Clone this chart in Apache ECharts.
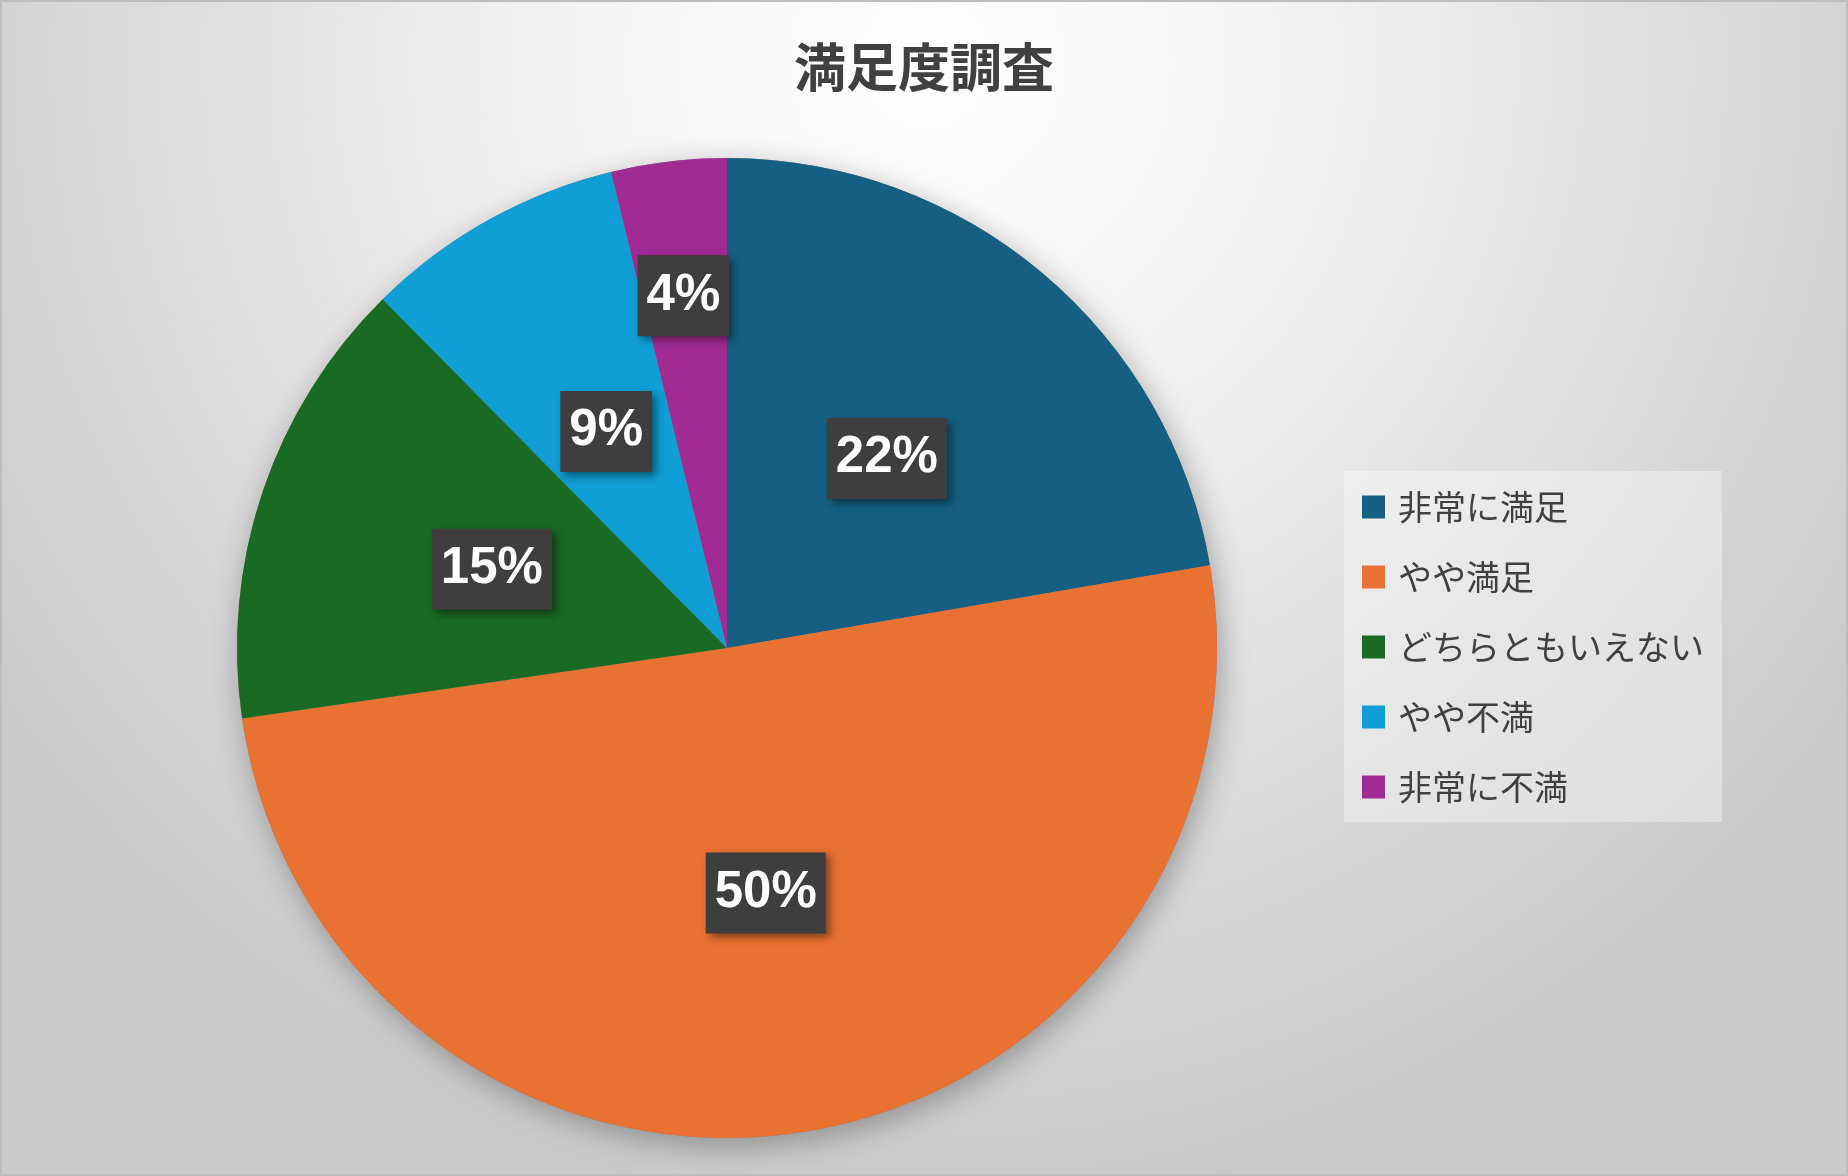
<!DOCTYPE html>
<html>
<head>
<meta charset="utf-8">
<script src="https://cdn.jsdelivr.net/npm/echarts@6/dist/echarts.min.js"></script>
<style>
  html, body { margin: 0; padding: 0; background: #fff; }
  #main { width: 1848px; height: 1176px; box-sizing: border-box; border: 2px solid #bdbdbd; }
</style>
</head>
<body>
<div id="main"></div>
<script>
// データ (割合 %)
var titleText = '満足度調査';
var categories = ['非常に満足', 'やや満足', 'どちらともいえない', 'やや不満', '非常に不満'];
var values = [22.3, 50.4, 14.9, 8.6, 3.8];
var colors = ['#156082', '#E97132', '#196B24', '#0F9ED5', '#A02B93'];

var chart = echarts.init(document.getElementById('main'));

var pieData = categories.map(function (name, i) {
    return { name: name, value: values[i], itemStyle: { color: colors[i] } };
});
var total = values.reduce(function (a, b) { return a + b; }, 0);

var option = {
    backgroundColor: {
        type: 'radial', x: 924, y: 60, r: 1150, global: true,
        colorStops: [
            { offset: 0, color: '#ffffff' },
            { offset: 0.35, color: '#f1f1f1' },
            { offset: 0.7, color: '#dadada' },
            { offset: 1, color: '#c9c9c9' }
        ]
    },
    title: {
        text: titleText,
        left: 'center',
        top: 34,
        textStyle: {
            fontFamily: 'Noto Sans CJK JP',
            fontSize: 52,
            fontWeight: 'bold',
            color: '#404040'
        }
    },
    legend: {
        orient: 'vertical',
        left: 1342,
        top: 469,
        padding: [19, 18, 18, 18],
        backgroundColor: 'rgba(255,255,255,0.35)',
        data: categories,
        icon: 'rect',
        itemWidth: 23,
        itemHeight: 23,
        itemGap: 36,
        textStyle: {
            fontFamily: 'Noto Sans CJK JP',
            fontSize: 34,
            lineHeight: 34,
            color: '#404040',
            padding: [0, 0, 0, 8]
        }
    },
    series: [
        {
            // 影だけの円
            type: 'pie',
            silent: true,
            center: [725, 646],
            radius: 490,
            z: 1,
            label: { show: false },
            labelLine: { show: false },
            data: [{ value: total, name: '', itemStyle: { color: '#888',
                shadowBlur: 30, shadowColor: 'rgba(0,0,0,0.3)', shadowOffsetX: 4, shadowOffsetY: 8 } }]
        },
        {
            name: titleText,
            type: 'pie',
            center: [725, 646],
            radius: 490,
            startAngle: 90,
            clockwise: true,
            percentPrecision: 0,
            z: 2,
            animation: false,
            data: pieData,
            label: {
                show: true,
                position: 'inside',
                formatter: '{d}%',
                fontFamily: 'Liberation Sans',
                fontSize: 51,
                fontWeight: 'bold',
                color: '#ffffff',
                lineHeight: 54,
                backgroundColor: '#3e3e3e',
                padding: [14, 9, 13, 9],
                shadowBlur: 8,
                shadowColor: 'rgba(0,0,0,0.45)',
                shadowOffsetX: 4,
                shadowOffsetY: 4
            },
            labelLine: { show: false },
            labelLayout: function (params) {
                if (params.dataIndex === 4) {
                    return { dx: -14, dy: -106 };
                }
            }
        }
    ]
};

chart.setOption(option);
</script>
</body>
</html>
